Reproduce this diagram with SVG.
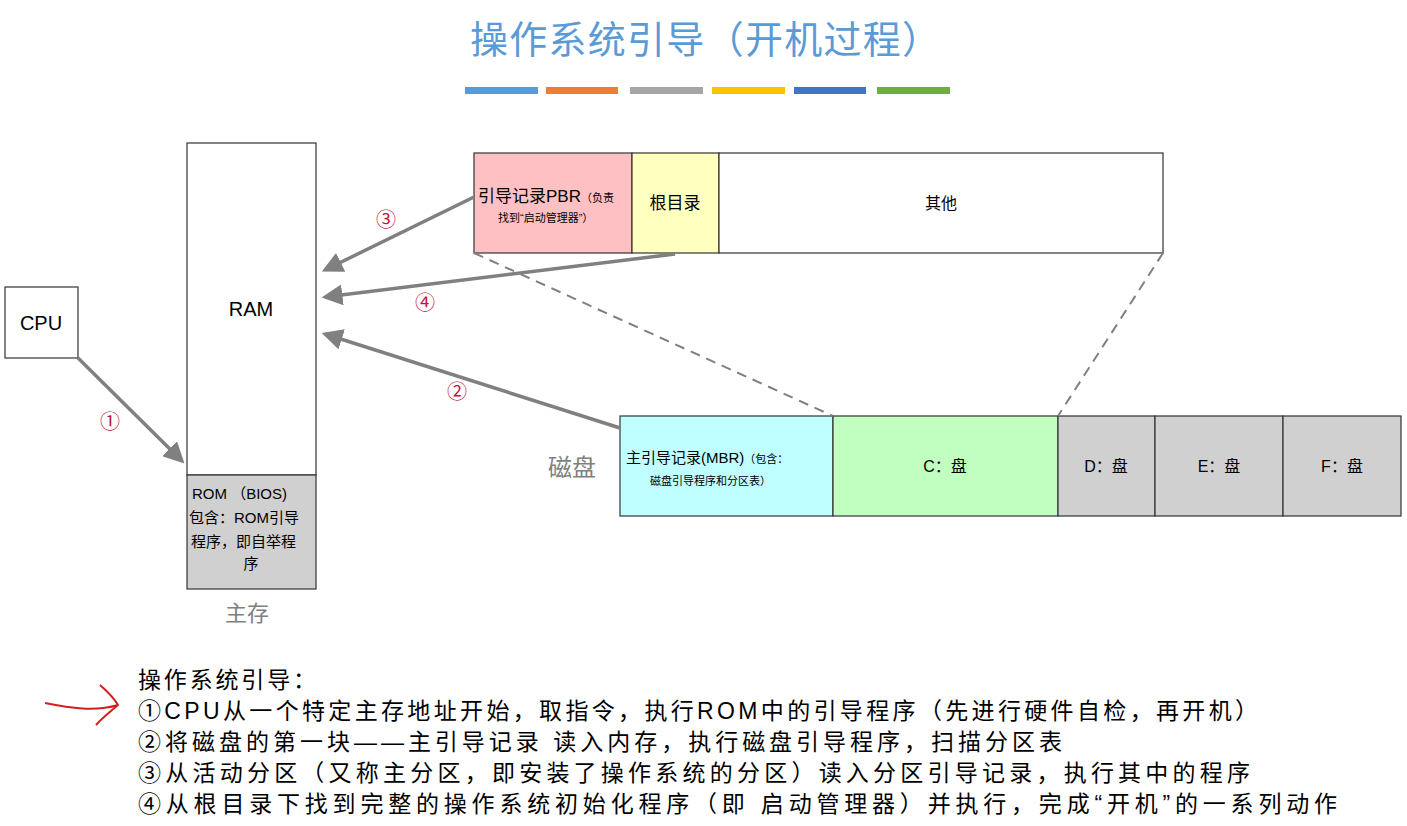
<svg xmlns="http://www.w3.org/2000/svg" width="1407" height="826" viewBox="0 0 1407 826">
<style>
text{font-family:"Liberation Sans","Noto Sans CJK SC",sans-serif;fill:#000}
.box{stroke:#333;stroke-width:1.2}
.num{fill:#c0143c;font-size:20px}
.c{text-anchor:middle}
.conn{stroke:#808080;stroke-width:3.5;fill:none;marker-end:url(#ah)}
.dash{stroke:#808080;stroke-width:2;stroke-dasharray:10,7;fill:none}
.list{font-size:23px}
</style>
<defs><marker id="ah" markerWidth="6" markerHeight="6" refX="5" refY="3" orient="auto"><path d="M0,0L6,3L0,6z" fill="#808080"/></marker></defs>
<rect width="1407" height="826" fill="#fff"/>
<text x="705" y="53" class="c" textLength="470" style="font-size:38px;fill:#5b9bd5">操作系统引导（开机过程）</text>
<g>
<rect x="465" y="87" width="73" height="7" fill="#5b9bd5"/>
<rect x="546" y="87" width="72" height="7" fill="#ed7d31"/>
<rect x="630" y="87" width="73" height="7" fill="#a5a5a5"/>
<rect x="712" y="87" width="73" height="7" fill="#ffc000"/>
<rect x="794" y="87" width="72" height="7" fill="#4472c4"/>
<rect x="877" y="87" width="73" height="7" fill="#70ad47"/>
</g>
<g id="cpu"><rect class="box" x="5" y="287" width="73" height="71" fill="#fff"/><text x="41" y="330" class="c" style="font-size:20px">CPU</text></g>
<g id="ram"><rect class="box" x="187" y="143" width="129" height="332" fill="#fff"/><text x="251" y="316" class="c" style="font-size:20px">RAM</text></g>
<g id="rom"><rect class="box" x="187" y="475" width="129" height="114" fill="#d0d0d0"/>
<text x="192" y="499" style="font-size:15px">ROM （BIOS)</text>
<text x="189" y="523" style="font-size:15px">包含：ROM引导</text>
<text x="191" y="547" style="font-size:15px">程序，即自举程</text>
<text x="251" y="569" class="c" style="font-size:15px">序</text></g>
<text x="247" y="621" class="c" style="font-size:22px;fill:#808080">主存</text>
<g id="pbr"><rect class="box" x="474" y="153" width="158" height="100" fill="#ffc0c4"/>
<text x="478" y="202" style="font-size:17px">引导记录PBR<tspan style="font-size:11px">（负责</tspan></text>
<text x="498" y="222" style="font-size:11px">找到“启动管理器”）</text></g>
<g id="root"><rect class="box" x="632" y="153" width="87" height="100" fill="#ffffc0"/><text x="675" y="209" class="c" style="font-size:17px">根目录</text></g>
<g id="other"><rect class="box" x="719" y="153" width="444" height="100" fill="#fff"/><text x="941" y="209" class="c" style="font-size:16px">其他</text></g>
<text x="572" y="476" class="c" style="font-size:24px;fill:#808080">磁盘</text>
<g id="mbr"><rect class="box" x="620" y="416" width="213" height="100" fill="#c0ffff"/>
<text x="626" y="463" style="font-size:15px">主引导记录(MBR)<tspan style="font-size:11px">（包含：</tspan></text>
<text x="650" y="485" style="font-size:11px">磁盘引导程序和分区表）</text></g>
<g id="c"><rect class="box" x="833" y="416" width="225" height="100" fill="#c0ffc0"/><text x="945" y="472" class="c" style="font-size:16px">C：盘</text></g>
<g id="d"><rect class="box" x="1058" y="416" width="97" height="100" fill="#d0d0d0"/><text x="1106" y="472" class="c" style="font-size:16px">D：盘</text></g>
<g id="e"><rect class="box" x="1155" y="416" width="128" height="100" fill="#d0d0d0"/><text x="1219" y="472" class="c" style="font-size:16px">E：盘</text></g>
<g id="f"><rect class="box" x="1283" y="416" width="118" height="100" fill="#d0d0d0"/><text x="1342" y="472" class="c" style="font-size:16px">F：盘</text></g>
<g id="connectors">
<line class="dash" x1="474" y1="253" x2="833" y2="416"/>
<line class="dash" x1="1163" y1="253" x2="1058" y2="416"/>
<line class="conn" x1="78" y1="358" x2="182" y2="461"/>
<line class="conn" x1="474" y1="197" x2="325" y2="270"/>
<line class="conn" x1="675" y1="254" x2="325" y2="297"/>
<line class="conn" x1="620" y1="428" x2="325" y2="334"/>
<text x="110" y="429" class="num c">①</text>
<text x="457" y="399" class="num c">②</text>
<text x="386" y="227" class="num c">③</text>
<text x="425" y="310" class="num c">④</text>
</g>
<path d="M45,703 C70,708 95,712 118,705 M100,685 C108,692 114,698 118,705 C110,712 102,718 96,725" stroke="#d02020" stroke-width="2" fill="none"/>
<g class="list">
<text x="138" y="688" textLength="178">操作系统引导：</text>
<text x="138" y="719" textLength="1120">①CPU从一个特定主存地址开始，取指令，执行ROM中的引导程序（先进行硬件自检，再开机）</text>
<text x="138" y="750" textLength="924">②将磁盘的第一块——主引导记录 读入内存，执行磁盘引导程序，扫描分区表</text>
<text x="138" y="781" textLength="1112">③从活动分区（又称主分区，即安装了操作系统的分区）读入分区引导记录，执行其中的程序</text>
<text x="138" y="812" textLength="1199">④从根目录下找到完整的操作系统初始化程序（即 启动管理器）并执行，完成“开机”的一系列动作</text>
</g>
</svg>
